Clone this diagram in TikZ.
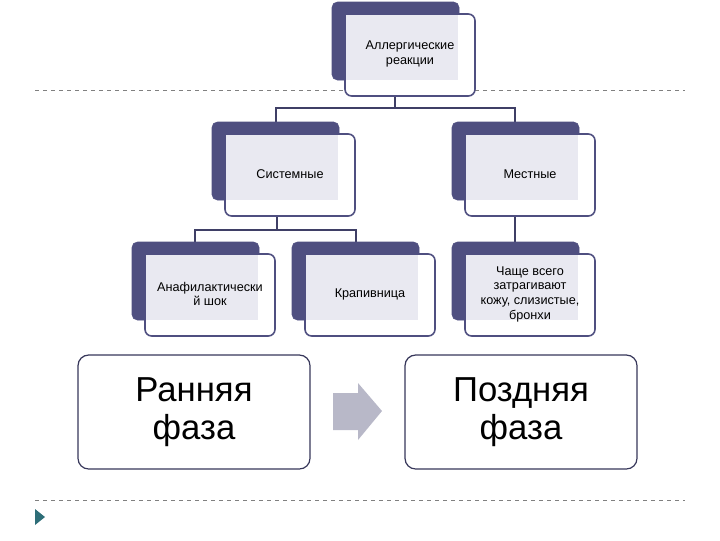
\documentclass[tikz,border=0pt]{standalone}
\usepackage{fontspec}
\setmainfont{Liberation Sans}
\definecolor{dk}{HTML}{4F4F80}
\definecolor{lt}{HTML}{E9E9F1}
\definecolor{arr}{HTML}{B8B8C8}
\definecolor{tl}{HTML}{2E6E78}
\tikzset{
 back/.style={fill=dk,draw=dk,rounded corners=4pt},
 front/.style={fill=white,draw=dk,line width=1.2pt,rounded corners=5pt},
 inner/.style={fill=lt,draw=none},
 lbl/.style={align=center,font=\fontsize{9.5}{11}\selectfont},
 big/.style={draw=dk!70!black,line width=0.9pt,rounded corners=8pt,fill=white},
 bigl/.style={align=center,font=\fontsize{26}{29}\selectfont},
 conn/.style={draw=dk!80!black,line width=1.2pt},
 dl/.style={draw=gray,dashed,line width=0.5pt}
}
\begin{document}
\begin{tikzpicture}[x=0.75pt,y=-0.75pt]
\useasboundingbox (0,0) rectangle (720,540);
\draw[dl] (35,90) -- (685,90);
\draw[dl] (35,500) -- (685,500);
\fill[tl] (35,509) -- (45,517) -- (35,525) -- cycle;
% connectors
\coordinate (t0) at (395,96); \coordinate (t1) at (395,108);
\draw[conn] (t0) -- (t1);
\draw[conn] (276,122) -- (276,108) -- (515,108) -- (515,122);
\draw[conn] (277,217) -- (277,230);
\draw[conn] (195,242) -- (195,230) -- (356,230) -- (356,242);
\draw[conn] (515,217) -- (515,242);
\foreach \x/\y/\n/\t in {332/2/a/{Аллергические\\реакции},212/122/s/Системные,452/122/m/Местные,132/242/an/{Анафилактически\\й шок},292/242/k/Крапивница,452/242/c/{Чаще всего\\затрагивают\\кожу, слизистые,\\бронхи}}{
 \path[back] (\x,\y) rectangle ++(127,78);
 \path[front] (\x+13,\y+12) rectangle ++(130,82);
 \path[inner] (\x+14,\y+13) rectangle ++(112,65);
 \node[lbl] (\n) at (\x+78,\y+52) {\t};
}
\draw[big] (78,355) rectangle (310,469);
\node[bigl] (early) at (194,412) {Ранняя\\фаза};
\draw[big] (405,355) rectangle (637,469);
\node[bigl] (late) at (521,412) {Поздняя\\фаза};
\fill[arr] (333,393) -- (358,393) -- (358,383) -- (382,411) -- (358,440) -- (358,430) -- (333,430) -- cycle;
\end{tikzpicture}
\end{document}
